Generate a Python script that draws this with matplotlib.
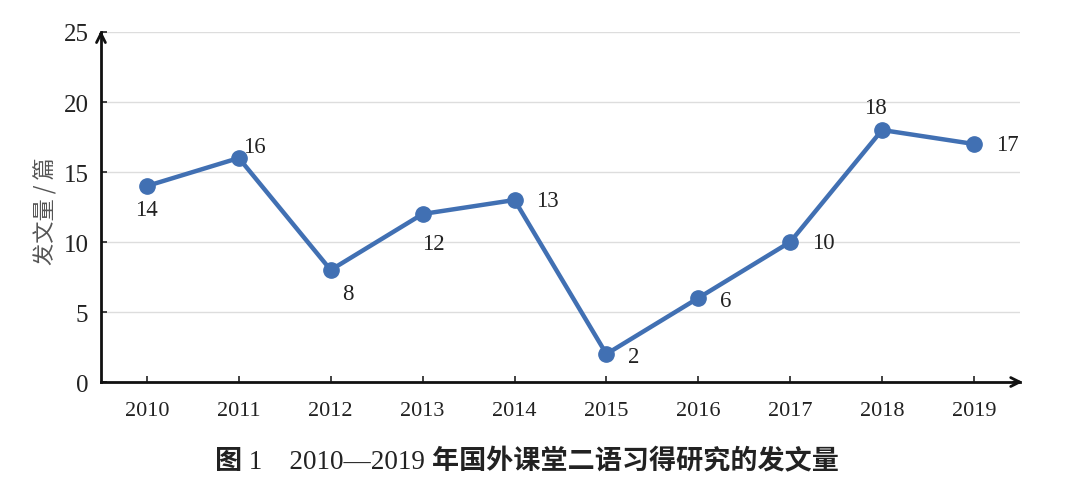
import matplotlib.pyplot as plt

years = ['2010', '2011', '2012', '2013', '2014', '2015', '2016', '2017', '2018', '2019']
counts = [14, 16, 8, 12, 13, 2, 6, 10, 18, 17]
# where each value label sits relative to its point (offset in points)
label_offsets = [(0, -17), (11, 8), (12, -17), (8, -21), (24, 0), (20, -2), (20, -2), (24, 0), (-5, 16), (24, 0)]

# caption pieces: CJK parts heavier, numbers in plain serif
caption_parts = [('图', 'bold'), (' 1\u30002010—2019 ', 'normal'), ('年国外课堂二语习得研究的发文量', 'bold')]

serif = ['Liberation Serif', 'Noto Sans CJK SC']
cjk = ['Noto Sans CJK SC', 'DejaVu Sans']
blue = '#4170b3'

fig = plt.figure(figsize=(10.65, 4.81), dpi=100)
ax = fig.add_axes([0.0948, 0.2037, 0.8629, 0.7277])

x = list(range(len(years)))
ax.plot(x, counts, color=blue, lw=3.2, marker='o', ms=11, zorder=3)

for xi, v, (dx, dy) in zip(x, counts, label_offsets):
    ax.annotate(str(v), (xi, v), xytext=(dx, dy), textcoords='offset points',
                ha='center', va='center', fontsize=16.5, family=serif, color='#222222')

ax.set_xlim(-0.5, 9.5)
ax.set_ylim(0, 25)
ax.set_xticks(x)
ax.set_xticklabels(years, family=serif, fontsize=16, color='#222222')
ax.set_yticks(range(0, 26, 5))
ax.set_yticklabels([str(t) for t in range(0, 26, 5)], family=serif, fontsize=18, color='#222222')
ax.tick_params(axis='both', direction='in', length=4, width=1.2, color='#222222')
ax.tick_params(axis='x', pad=14)
ax.tick_params(axis='y', pad=9)
ax.grid(axis='y', color='#dddddd', lw=1)
ax.set_axisbelow(True)

for s in ['top', 'right']:
    ax.spines[s].set_visible(False)
for s in ['left', 'bottom']:
    ax.spines[s].set_linewidth(2)
    ax.spines[s].set_color('#111111')

# arrow heads on the axes
ax.annotate('', xy=(1.006, 0), xytext=(0.99, 0), xycoords='axes fraction',
            arrowprops=dict(arrowstyle='->', color='#111111', lw=2, mutation_scale=16), annotation_clip=False)
ax.annotate('', xy=(0, 1.012), xytext=(0, 0.98), xycoords='axes fraction',
            arrowprops=dict(arrowstyle='->', color='#111111', lw=2, mutation_scale=16), annotation_clip=False)

ax.set_ylabel('发文量 / 篇', family=cjk, fontsize=16, color='#555555')
ax.yaxis.set_label_coords(-0.047, 0.49)

# caption, built from pieces so the digits stay regular
renderer = fig.canvas.get_renderer()
W = fig.bbox.width
pieces = []
for txt, wt in caption_parts:
    t = fig.text(0, 0.038, txt, ha='left', va='center', fontsize=19.5, family=serif,
                 weight=wt, color='#222222')
    pieces.append(t)
widths = [t.get_window_extent(renderer).width for t in pieces]
xpos = 0.495 * W - sum(widths) / 2
for t, w in zip(pieces, widths):
    t.set_x(xpos / W)
    xpos += w

fig.savefig('out.png', dpi=100)
